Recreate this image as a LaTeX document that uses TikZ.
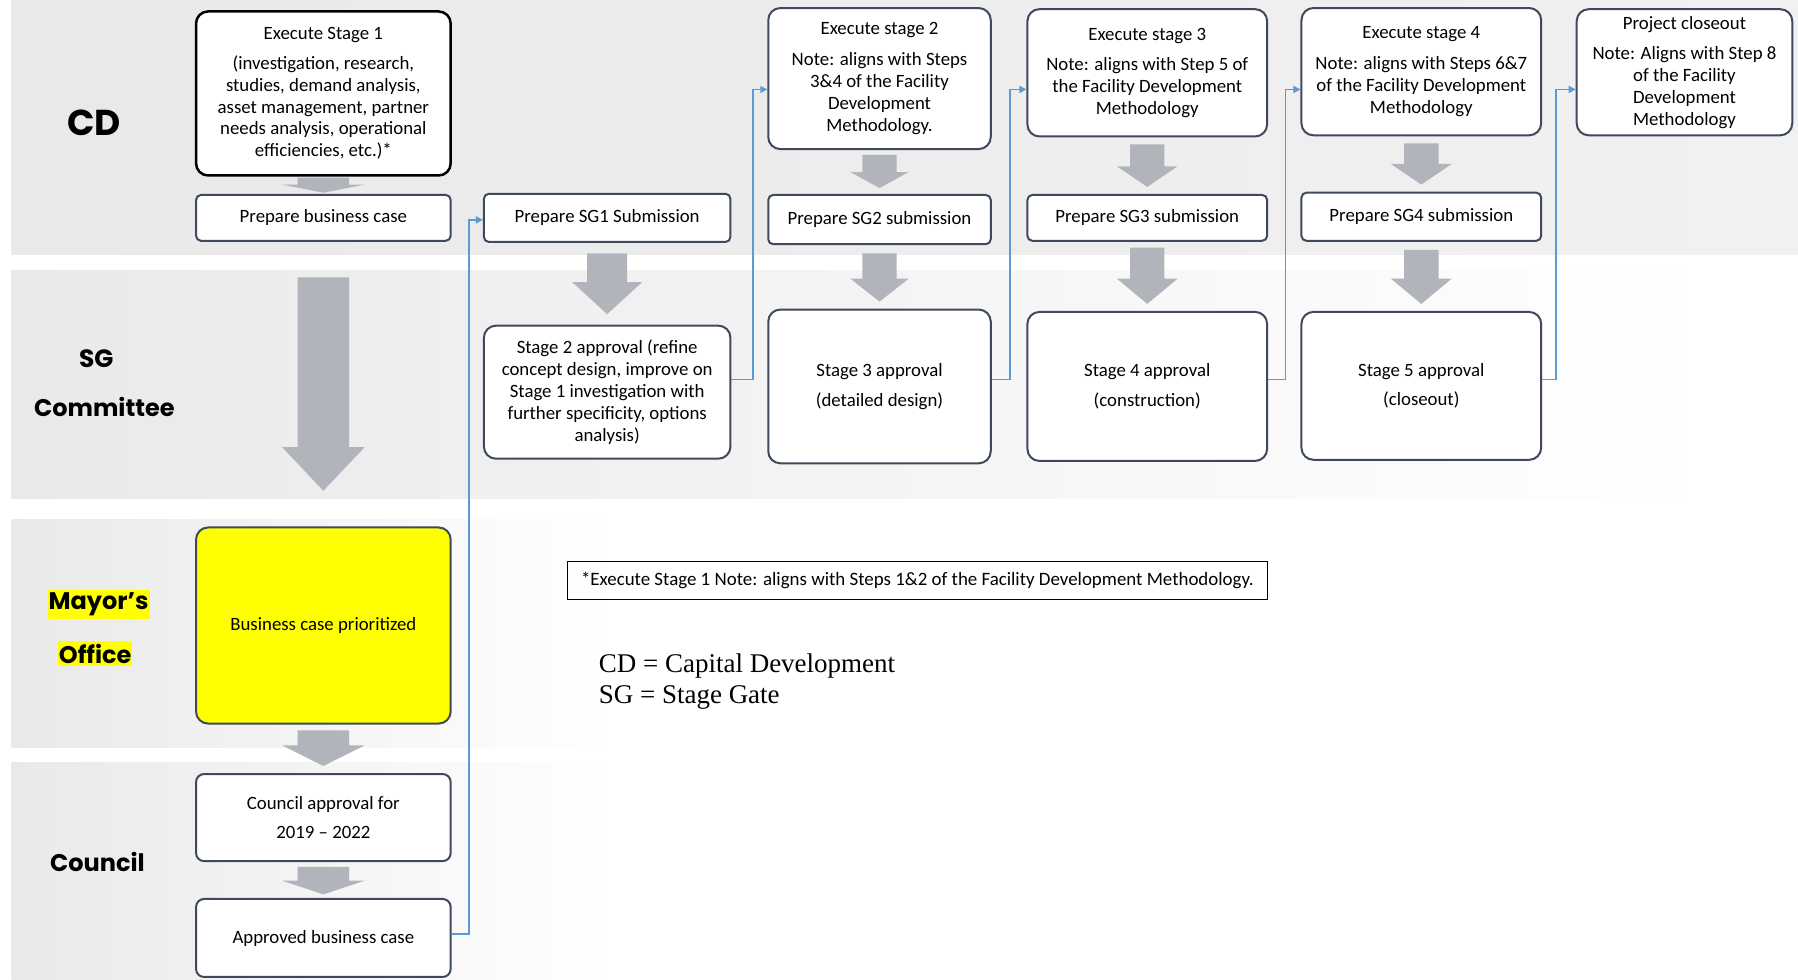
\documentclass[tikz,border=0pt]{standalone}
\usepackage{fontspec}
\setmainfont{Carlito}
\newfontfamily\lanefont{Poppins}
\newfontfamily\legfont{Liberation Serif}
\usetikzlibrary{arrows.meta}
\definecolor{edgec}{HTML}{3E4A5C}
\definecolor{arrowg}{HTML}{B1B4BA}
\definecolor{linkb}{HTML}{5B9BD5}
\definecolor{bandA}{HTML}{E9E9E9}
\definecolor{bandB}{HTML}{DCDCDC}
\definecolor{bandC}{HTML}{F1F1F1}
\definecolor{hilite}{HTML}{FFFF00}
\newcommand\garrow[6]{\fill[arrowg] (#1-#5,#2) -- (#1+#5,#2) -- (#1+#5,#3) -- (#1+#6,#3) -- (#1,#4) -- (#1-#6,#3) -- (#1-#5,#3) -- cycle;}
\begin{document}
\begin{tikzpicture}[x=1.1467pt,y=-1.1467pt,
  boxtext/.style={align=center,inner sep=0pt,font=\fontsize{18.8}{21.8}\selectfont,fill=white},
  execbox/.style={boxtext,draw=edgec,line width=2pt,rounded corners=12pt},
  prepbox/.style={boxtext,draw=edgec,line width=2pt,rounded corners=5pt},
  apprbox/.style={boxtext,draw=edgec,line width=2pt,rounded corners=12pt},
  lane/.style={font=\lanefont\bfseries\fontsize{24}{28}\selectfont,inner sep=0pt},
  link/.style={draw=linkb,line width=1.6pt,-{Triangle[length=7pt,width=7pt]}}]
\useasboundingbox (0,0) rectangle (1568,854);
% bands
\shade[left color=bandA,middle color=bandB,right color=bandC] (10,0) rectangle (1568,222);
\shade[left color=bandA,middle color=bandB,right color=white] (10,236) rectangle (1500,435);
\shade[left color=bandA,middle color=bandB,right color=white] (10,453) rectangle (540,652);
\shade[left color=bandA,middle color=bandB,right color=white] (10,665) rectangle (540,854);
% lane labels
\node[lane,font=\lanefont\bfseries\fontsize{36}{40}\selectfont] (lcd) at (82,107) {CD};
\node[lane,font=\lanefont\bfseries\fontsize{25}{28}\selectfont] (lsg) at (84,313) {SG};
\node[lane] (lcom) at (91,355) {Committee};
\node[lane,fill=hilite,inner xsep=1pt,inner ysep=3pt] (lmay) at (86,527) {Mayor’s};
\node[lane,fill=hilite,inner xsep=1pt,inner ysep=3pt] (loff) at (83,570) {Office};
\node[lane] (lcou) at (85,752) {Council};
% gray block arrows
\garrow{282}{155}{161}{168}{22.5}{36}
\garrow{282}{242}{390}{428}{22.5}{36}
\garrow{282}{637}{650}{668}{22.5}{36}
\garrow{282}{756}{768}{780}{22.5}{36}
\garrow{529.5}{221}{246}{274}{17.5}{30.5}
\garrow{767}{135}{150}{164}{15}{25.5}
\garrow{767}{221}{243}{263}{15}{25.5}
\garrow{1000.5}{126}{145}{163}{15}{26.5}
\garrow{1000.5}{216}{243}{265}{15}{26.5}
\garrow{1239.5}{125}{143}{161}{15}{26.5}
\garrow{1239.5}{218}{243}{265}{15}{26.5}
% nodes
\node[execbox,draw=black,line width=2.5pt,minimum width=254.6pt,minimum height=164pt] (exec1) at (282,81.5)
 {Execute Stage 1\\[8pt](investigation, research,\\studies, demand analysis,\\asset management, partner\\needs analysis, operational\\efficiencies, etc.)*};
\node[prepbox,minimum width=254.6pt,minimum height=45.9pt] (prepbc) at (282,190) {Prepare business case};
\node[prepbox,minimum width=246.5pt,minimum height=48.2pt] (prep1) at (529.5,190) {Prepare SG1 Submission};
\node[execbox,minimum width=222.5pt,minimum height=141pt] (exec2) at (767,68.5)
 {Execute stage 2\\[9pt]Note: aligns with Steps\\3\&4 of the Facility\\Development\\Methodology.};
\node[prepbox,minimum width=222.5pt,minimum height=49.3pt] (prep2) at (767,191.5) {Prepare SG2 submission};
\node[execbox,minimum width=239.7pt,minimum height=127.3pt] (exec3) at (1000.5,63.5)
 {Execute stage 3\\[9pt]Note: aligns with Step 5 of\\the Facility Development\\Methodology};
\node[prepbox,minimum width=239.7pt,minimum height=45.9pt] (prep3) at (1000.5,190) {Prepare SG3 submission};
\node[execbox,minimum width=239.7pt,minimum height=127.3pt] (exec4) at (1239.5,62.5)
 {Execute stage 4\\[9pt]Note: aligns with Steps 6\&7\\of the Facility Development\\Methodology};
\node[prepbox,minimum width=239.7pt,minimum height=48.2pt] (prep4) at (1239.5,189) {Prepare SG4 submission};
\node[execbox,minimum width=215.6pt,minimum height=126.1pt] (close) at (1469,63)
 {Project closeout\\[9pt]Note: Aligns with Step 8\\of the Facility\\Development\\Methodology};
\node[apprbox,minimum width=246.5pt,minimum height=133pt] (st2) at (529.5,342)
 {Stage 2 approval (refine\\concept design, improve on\\Stage 1 investigation with\\further specificity, options\\analysis)};
\node[apprbox,minimum width=222.5pt,minimum height=153.7pt] (st3) at (767,337) {Stage 3 approval\\[8pt](detailed design)};
\node[apprbox,minimum width=239.7pt,minimum height=149pt] (st4) at (1000.5,337) {Stage 4 approval\\[8pt](construction)};
\node[apprbox,minimum width=239.7pt,minimum height=147.9pt] (st5) at (1239.5,336.5) {Stage 5 approval\\[8pt](closeout)};
\node[apprbox,fill=hilite,minimum width=254.6pt,minimum height=196.1pt] (bcp) at (282,545.5) {Business case prioritized};
\node[prepbox,rounded corners=8pt,minimum width=254.6pt,minimum height=87.1pt] (council) at (282,713) {Council approval for\\[8pt]2019 – 2022};
\node[prepbox,rounded corners=8pt,minimum width=254.6pt,minimum height=78pt] (approved) at (282,818) {Approved business case};
\node[draw=black,line width=1pt,inner sep=0pt,minimum width=699.5pt,minimum height=37.8pt,font=\fontsize{18.9}{22}\selectfont] (note) at (800,506.5)
 {*Execute Stage 1 Note: aligns with Steps 1\&2 of the Facility Development Methodology.};
\node[anchor=north west,align=left,inner sep=0pt,font=\legfont\fontsize{27}{31}\selectfont] (legend) at (522,570)
 {CD = Capital Development\\SG = Stage Gate};
% blue links
\draw[link] ([yshift=4pt]approved.east) -- ++(15,0) |- ([yshift=-2pt]prep1.west);
\draw[link] ([yshift=12.6pt]st2.east) -- ++(19,0) |- ([yshift=-10.9pt]exec2.west);
\draw[link] ([yshift=6.9pt]st3.east) -- ++(16,0) |- ([yshift=-16.6pt]exec3.west);
\draw[link] ([yshift=6.9pt]st4.east) -- ++(15,0) |- ([yshift=-17.8pt]exec4.west);
\draw[link] ([yshift=6.3pt]st5.east) -- ++(12,0) |- ([yshift=-17.2pt]close.west);
\end{tikzpicture}
\end{document}
